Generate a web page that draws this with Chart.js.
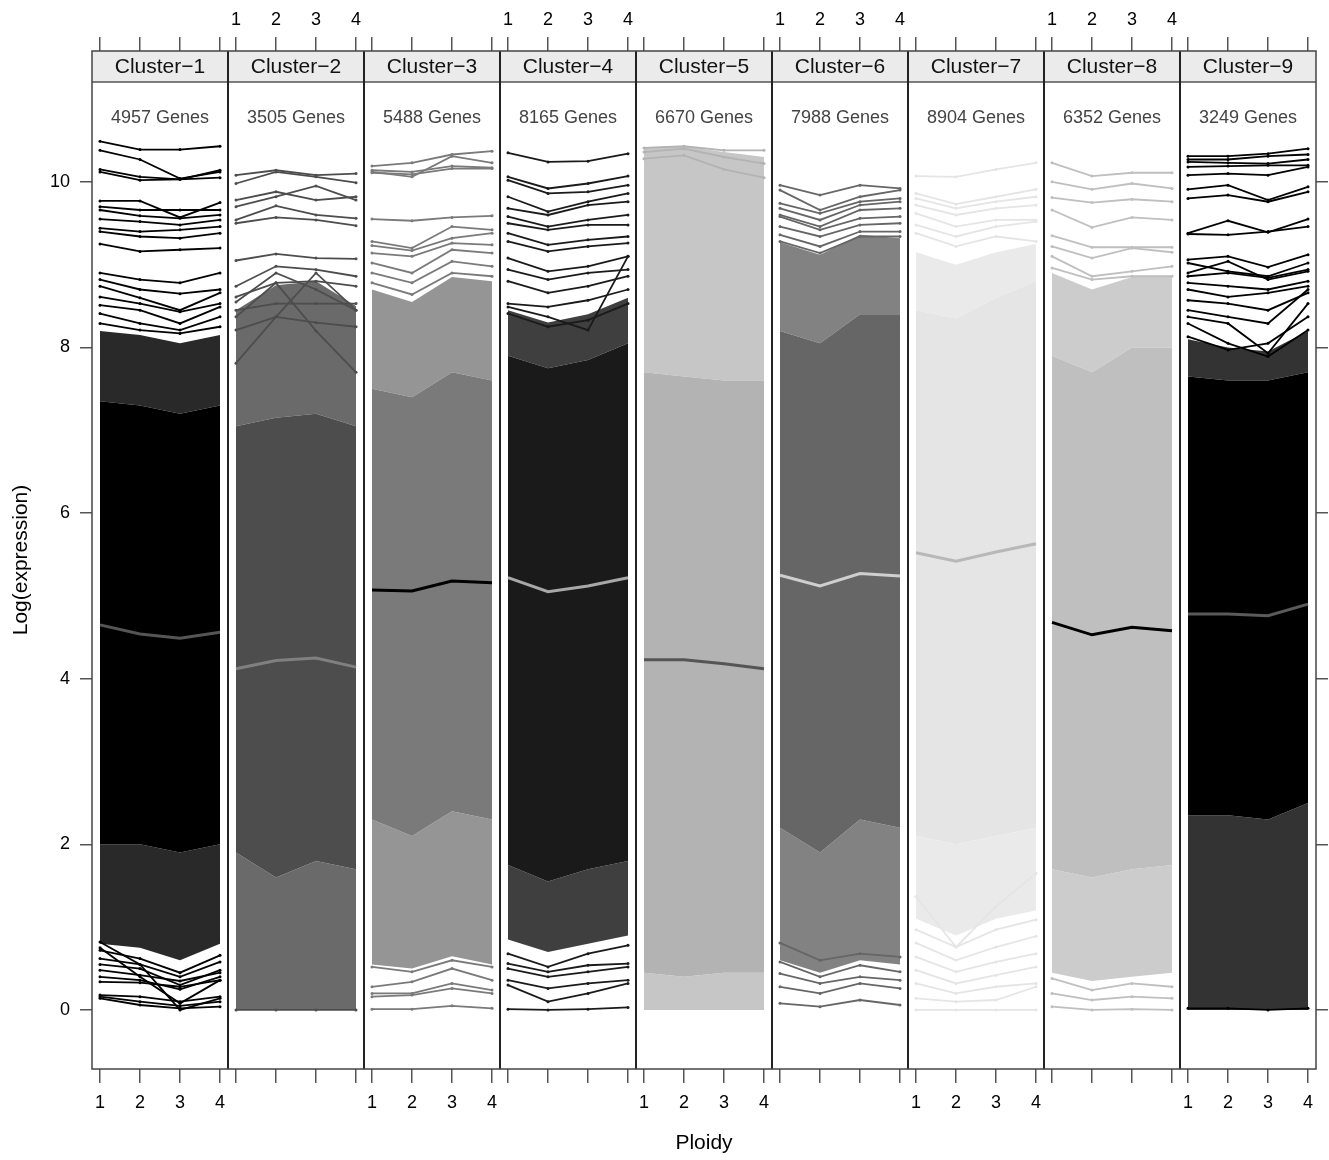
<!DOCTYPE html>
<html>
<head>
<meta charset="utf-8">
<script src="https://cdn.jsdelivr.net/npm/chart.js@4.4.1/dist/chart.umd.min.js"></script>
<style>
  body { margin: 0; background: #fff; }
</style>
</head>
<body>
<canvas id="grafico" width="1329" height="1160"></canvas>
<script>
// eixo x: niveis de ploidia, repetidos em cada painel
const ploidia = [1, 2, 3, 4];
const clusters = ['Cluster−1', 'Cluster−2', 'Cluster−3', 'Cluster−4', 'Cluster−5', 'Cluster−6', 'Cluster−7', 'Cluster−8', 'Cluster−9'];
const genes = [4957, 3505, 5488, 8165, 6670, 7988, 8904, 6352, 3249];
const marcasY = [0, 2, 4, 6, 8, 10];

const cores = ['#000000', '#4d4d4d', '#7a7a7a', '#1a1a1a', '#b3b3b3', '#666666', '#e5e5e5', '#bfbfbf', '#000000'];
const coresSemi = ['rgba(0,0,0,0.84)', 'rgba(77,77,77,0.84)', 'rgba(122,122,122,0.8)', 'rgba(26,26,26,0.84)',
                   'rgba(179,179,179,0.75)', 'rgba(102,102,102,0.82)', 'rgba(229,229,229,0.8)', 'rgba(191,191,191,0.8)', 'rgba(0,0,0,0.8)'];
const coresMedia = ['#555555', '#808080', '#000000', '#a8a8a8', '#555555', '#cfcfcf', '#b8b8b8', '#000000', '#5a5a5a'];

// media de expressao por cluster
const media = [
    [4.65, 4.54, 4.49, 4.56],
    [4.12, 4.22, 4.25, 4.14],
    [5.07, 5.06, 5.18, 5.16],
    [5.22, 5.05, 5.12, 5.22],
    [4.23, 4.23, 4.18, 4.12],
    [5.25, 5.12, 5.27, 5.24],
    [5.52, 5.42, 5.53, 5.63],
    [4.68, 4.53, 4.62, 4.58],
    [4.78, 4.78, 4.76, 4.90]
];

// limites das faixas densas (semi = muitas linhas, nucleo = tudo preenchido)
const semiBaixo = [
    [0.80, 0.75, 0.60, 0.80], [0.00, 0.00, 0.00, 0.00], [0.55, 0.50, 0.65, 0.55],
    [0.85, 0.70, 0.80, 0.90], [0.00, 0.00, 0.00, 0.00], [0.60, 0.45, 0.60, 0.55],
    [1.10, 0.90, 1.10, 1.20], [0.45, 0.35, 0.40, 0.45], [0.00, 0.00, 0.00, 0.00]
];
const nucleoBaixo = [
    [2.00, 2.00, 1.90, 2.00], [1.90, 1.60, 1.80, 1.70], [2.30, 2.10, 2.40, 2.30],
    [1.75, 1.55, 1.70, 1.80], [0.45, 0.40, 0.45, 0.45], [2.20, 1.90, 2.30, 2.20],
    [2.10, 2.00, 2.10, 2.20], [1.70, 1.60, 1.70, 1.75], [2.35, 2.35, 2.30, 2.50]
];
const nucleoAlto = [
    [7.35, 7.30, 7.20, 7.30], [7.05, 7.15, 7.20, 7.05], [7.50, 7.40, 7.70, 7.60],
    [7.90, 7.75, 7.85, 8.05], [7.70, 7.65, 7.60, 7.60], [8.20, 8.05, 8.40, 8.40],
    [8.45, 8.35, 8.60, 8.80], [7.90, 7.70, 8.00, 8.00], [7.65, 7.60, 7.60, 7.70]
];
const semiAlto = [
    [8.20, 8.15, 8.05, 8.15], [8.45, 8.75, 8.80, 8.50], [8.70, 8.55, 8.85, 8.80],
    [8.45, 8.30, 8.40, 8.60], [10.41, 10.43, 10.36, 10.30], [9.27, 9.12, 9.36, 9.32],
    [9.15, 9.00, 9.15, 9.25], [8.90, 8.70, 8.85, 8.85], [8.10, 8.00, 7.95, 8.20]
];

// genes isolados visiveis fora das faixas densas
const linhas1 = [
    [10.49, 10.39, 10.39, 10.43], [10.38, 10.27, 10.04, 10.12], [10.15, 10.06, 10.03, 10.14], [10.12, 10.02, 10.03, 10.05],
    [9.77, 9.77, 9.57, 9.75], [9.70, 9.66, 9.66, 9.66], [9.66, 9.59, 9.56, 9.60], [9.55, 9.52, 9.48, 9.54],
    [9.44, 9.40, 9.42, 9.46], [9.40, 9.34, 9.32, 9.38], [9.25, 9.16, 9.18, 9.20], [8.90, 8.82, 8.78, 8.90],
    [8.82, 8.70, 8.65, 8.70], [8.74, 8.60, 8.45, 8.66], [8.61, 8.53, 8.43, 8.53], [8.51, 8.45, 8.29, 8.49],
    [8.41, 8.29, 8.21, 8.37], [8.29, 8.21, 8.17, 8.25],
    [0.72, 0.62, 0.45, 0.66], [0.62, 0.55, 0.40, 0.58], [0.55, 0.50, 0.30, 0.48], [0.48, 0.42, 0.35, 0.45],
    [0.40, 0.36, 0.25, 0.40], [0.34, 0.33, 0.28, 0.36], [0.75, 0.40, 0.08, 0.36], [0.82, 0.55, 0.00, 0.14],
    [0.18, 0.16, 0.10, 0.16], [0.14, 0.06, 0.02, 0.04], [0.16, 0.10, 0.05, 0.10]
];
const linhas2 = [
    [10.08, 10.14, 10.08, 10.10], [9.98, 10.12, 10.06, 9.99], [9.78, 9.88, 9.78, 9.82], [9.70, 9.82, 9.95, 9.78],
    [9.54, 9.71, 9.60, 9.56], [9.50, 9.57, 9.54, 9.47], [9.05, 9.13, 9.08, 9.07], [8.74, 8.98, 8.94, 8.86],
    [7.81, 8.37, 8.90, 8.45], [8.61, 8.78, 8.80, 8.74], [8.45, 8.53, 8.53, 8.53], [8.37, 8.78, 8.20, 7.70],
    [8.21, 8.37, 8.30, 8.25], [8.55, 8.90, 8.70, 8.45],
    [0.00, 0.00, 0.00, 0.00]
];
const linhas3 = [
    [10.19, 10.23, 10.33, 10.37], [10.12, 10.06, 10.31, 10.23], [10.14, 10.12, 10.19, 10.17], [10.11, 10.09, 10.16, 10.16],
    [9.55, 9.53, 9.57, 9.59], [9.28, 9.20, 9.46, 9.42], [9.23, 9.17, 9.32, 9.38], [9.14, 9.10, 9.26, 9.24],
    [9.02, 8.90, 9.18, 9.14], [8.90, 8.78, 9.04, 8.98], [8.78, 8.64, 8.90, 8.86],
    [0.52, 0.46, 0.60, 0.52], [0.28, 0.34, 0.50, 0.36], [0.20, 0.20, 0.32, 0.24], [0.16, 0.18, 0.26, 0.20],
    [0.01, 0.01, 0.05, 0.02]
];
const linhas4 = [
    [10.35, 10.24, 10.25, 10.34], [10.06, 9.92, 9.98, 10.07], [10.02, 9.86, 9.88, 9.96], [9.82, 9.64, 9.76, 9.86],
    [9.68, 9.60, 9.72, 9.76], [9.58, 9.46, 9.54, 9.60], [9.50, 9.42, 9.48, 9.48], [9.38, 9.24, 9.30, 9.34],
    [9.28, 9.16, 9.22, 9.26], [9.08, 8.92, 8.98, 9.10], [8.94, 8.82, 8.90, 8.94], [8.80, 8.66, 8.74, 8.86],
    [8.53, 8.49, 8.57, 8.70], [8.41, 8.25, 8.33, 8.53], [8.49, 8.37, 8.21, 9.10],
    [0.68, 0.52, 0.68, 0.78], [0.56, 0.46, 0.54, 0.56], [0.50, 0.40, 0.46, 0.52], [0.36, 0.26, 0.32, 0.36],
    [0.30, 0.10, 0.20, 0.32], [0.01, 0.00, 0.01, 0.03]
];
const linhas5 = [
    [10.41, 10.43, 10.38, 10.38], [10.36, 10.40, 10.30, 10.22], [10.28, 10.32, 10.15, 10.05]
];
const linhas6 = [
    [9.96, 9.84, 9.96, 9.92], [9.90, 9.66, 9.82, 9.90], [9.74, 9.62, 9.76, 9.80], [9.68, 9.54, 9.72, 9.76],
    [9.60, 9.46, 9.66, 9.68], [9.58, 9.42, 9.56, 9.58], [9.46, 9.34, 9.48, 9.50], [9.36, 9.22, 9.40, 9.40],
    [9.28, 9.14, 9.34, 9.34],
    [0.81, 0.60, 0.68, 0.64], [0.58, 0.40, 0.54, 0.46], [0.44, 0.32, 0.40, 0.36], [0.28, 0.20, 0.32, 0.26],
    [0.08, 0.04, 0.12, 0.06]
];
const linhas7 = [
    [10.07, 10.06, 10.15, 10.23], [9.86, 9.73, 9.82, 9.91], [9.80, 9.68, 9.76, 9.82], [9.72, 9.60, 9.68, 9.72],
    [9.62, 9.46, 9.54, 9.54], [9.48, 9.34, 9.46, 9.52], [9.38, 9.22, 9.34, 9.28],
    [0.97, 0.76, 0.97, 1.09], [0.81, 0.60, 0.76, 0.89], [0.64, 0.46, 0.58, 0.68], [0.48, 0.32, 0.42, 0.52],
    [0.32, 0.20, 0.28, 0.32], [0.14, 0.10, 0.12, 0.28], [0.00, 0.00, 0.00, 0.00], [1.37, 0.76, 1.25, 1.65]
];
const linhas8 = [
    [10.23, 10.07, 10.11, 10.11], [10.00, 9.91, 9.98, 9.92], [9.81, 9.75, 9.79, 9.76], [9.66, 9.45, 9.57, 9.54],
    [9.35, 9.21, 9.21, 9.21], [9.22, 9.08, 9.20, 9.15], [9.10, 8.86, 8.92, 8.98], [8.96, 8.82, 8.86, 8.86],
    [0.38, 0.24, 0.32, 0.28], [0.20, 0.12, 0.16, 0.14], [0.04, 0.00, 0.01, 0.00]
];
const linhas9 = [
    [10.31, 10.31, 10.34, 10.40], [10.27, 10.27, 10.31, 10.33], [10.24, 10.23, 10.22, 10.27], [10.18, 10.19, 10.20, 10.20],
    [10.08, 10.10, 10.08, 10.18], [9.91, 9.96, 9.78, 9.94], [9.80, 9.84, 9.76, 9.88], [9.38, 9.53, 9.39, 9.55],
    [9.37, 9.36, 9.40, 9.46], [9.06, 9.10, 8.97, 9.12], [9.02, 8.92, 8.86, 9.02], [8.90, 9.04, 8.82, 8.92],
    [8.86, 8.90, 8.84, 8.94], [8.78, 8.74, 8.70, 8.80], [8.70, 8.61, 8.66, 8.74], [8.57, 8.53, 8.45, 8.66],
    [8.45, 8.37, 8.29, 8.70], [8.37, 8.29, 7.93, 8.53], [8.29, 8.05, 7.89, 8.21], [8.13, 7.97, 8.05, 8.37],
    [0.02, 0.02, 0.00, 0.02]
];

const todasLinhas = [linhas1, linhas2, linhas3, linhas4, linhas5, linhas6, linhas7, linhas8, linhas9];

// cada painel ocupa 3.4 unidades no eixo x comum (0.8 .. 4.2)
const PAINEL = 3.4;
const INICIO = 0.8;

function pontos(i, valores) {
    return valores.map(function (v, k) {
        return { x: i * PAINEL + ploidia[k] - INICIO, y: v };
    });
}

var datasets = [];
for (var i = 0; i < clusters.length; i++) {
    var borda = { borderWidth: 0, pointRadius: 0, borderColor: 'rgba(0,0,0,0)' };
    datasets.push(Object.assign({ data: pontos(i, semiBaixo[i]), fill: false, order: 6 }, borda));
    datasets.push(Object.assign({ data: pontos(i, nucleoBaixo[i]), fill: '-1', backgroundColor: coresSemi[i], order: 6 }, borda));
    datasets.push(Object.assign({ data: pontos(i, nucleoAlto[i]), fill: '-1', backgroundColor: cores[i], order: 5 }, borda));
    datasets.push(Object.assign({ data: pontos(i, semiAlto[i]), fill: '-1', backgroundColor: coresSemi[i], order: 6 }, borda));

    todasLinhas[i].forEach(function (l) {
        datasets.push({
            data: pontos(i, l),
            fill: false,
            borderColor: cores[i],
            borderWidth: 1.8,
            pointRadius: 1.5,
            pointBorderWidth: 0,
            pointBackgroundColor: cores[i],
            order: 3
        });
    });

    datasets.push({
        data: pontos(i, media[i]),
        fill: false,
        borderColor: coresMedia[i],
        borderWidth: 3,
        pointRadius: 0,
        order: 1
    });
}

function ticksPaineis(escala) {
    var t = [];
    for (var p = 0; p < clusters.length; p++) {
        ploidia.forEach(function (v) { t.push({ value: p * PAINEL + v - INICIO }); });
    }
    escala.ticks = t;
}

var fonteTicks = { family: 'Liberation Sans', size: 18 };
var fonteTitulo = { family: 'Liberation Sans', size: 21 };
var gradeX = { drawOnChartArea: false, drawTicks: true, tickLength: 14, color: '#555', lineWidth: 1.5 };

// faixas dos titulos, contagem de genes e moldura
const paineisPlugin = {
    id: 'paineis',
    afterDatasetsDraw: function (chart) {
        var ctx = chart.ctx;
        var area = chart.chartArea;
        var x = chart.scales.x;
        var topoFaixa = area.top;
        var baseFaixa = area.top + 31;
        ctx.save();
        for (var i = 0; i < clusters.length; i++) {
            var x0 = x.getPixelForValue(i * PAINEL);
            var x1 = x.getPixelForValue((i + 1) * PAINEL);
            ctx.fillStyle = '#ebebeb';
            ctx.fillRect(x0, topoFaixa, x1 - x0, baseFaixa - topoFaixa);
            ctx.fillStyle = '#111';
            ctx.font = '21px "Liberation Sans"';
            ctx.textAlign = 'center';
            ctx.textBaseline = 'middle';
            ctx.fillText(clusters[i], (x0 + x1) / 2, (topoFaixa + baseFaixa) / 2 + 1);
            ctx.fillStyle = '#444';
            ctx.font = '18px "Liberation Sans"';
            ctx.fillText(genes[i] + ' Genes', (x0 + x1) / 2, 118);
        }
        ctx.strokeStyle = '#555';
        ctx.lineWidth = 1.5;
        ctx.beginPath();
        ctx.moveTo(area.left, baseFaixa);
        ctx.lineTo(area.right, baseFaixa);
        ctx.stroke();
        ctx.strokeStyle = '#222';
        ctx.lineWidth = 2;
        for (var j = 1; j < clusters.length; j++) {
            var xp = Math.round(x.getPixelForValue(j * PAINEL));
            ctx.beginPath();
            ctx.moveTo(xp, area.top);
            ctx.lineTo(xp, area.bottom);
            ctx.stroke();
        }
        ctx.strokeStyle = '#444';
        ctx.lineWidth = 1.5;
        ctx.strokeRect(area.left, area.top, area.right - area.left, area.bottom - area.top);
        ctx.restore();
    }
};

var configuracao = {
    type: 'line',
    data: { datasets: datasets },
    options: {
        responsive: false,
        animation: false,
        events: [],
        layout: { padding: 0 },
        plugins: { legend: { display: false }, tooltip: { enabled: false } },
        scales: {
            x: {
                type: 'linear', position: 'bottom', min: 0, max: clusters.length * PAINEL,
                afterBuildTicks: ticksPaineis,
                afterFit: function (s) { s.height = 91; },
                grid: gradeX,
                border: { display: false },
                ticks: {
                    autoSkip: false, maxRotation: 0, padding: 9, color: '#000', font: fonteTicks,
                    callback: function (v, idx) { return Math.floor(idx / 4) % 2 === 0 ? String(ploidia[idx % 4]) : ''; }
                },
                title: { display: true, text: 'Ploidy', color: '#000', font: fonteTitulo, padding: { top: 0, bottom: 4 } }
            },
            x2: {
                type: 'linear', position: 'top', min: 0, max: clusters.length * PAINEL,
                afterBuildTicks: ticksPaineis,
                afterFit: function (s) { s.height = 51; },
                grid: gradeX,
                border: { display: false },
                ticks: {
                    autoSkip: false, maxRotation: 0, padding: 6, color: '#000', font: fonteTicks,
                    callback: function (v, idx) { return Math.floor(idx / 4) % 2 === 1 ? String(ploidia[idx % 4]) : ''; }
                }
            },
            y: {
                type: 'linear', position: 'left', min: -0.713, max: 11.58,
                afterBuildTicks: function (s) { s.ticks = marcasY.map(function (v) { return { value: v }; }); },
                afterFit: function (s) { s.width = 92; },
                grid: { drawOnChartArea: false, drawTicks: true, tickLength: 12, color: '#555', lineWidth: 1.5 },
                border: { display: false },
                ticks: { padding: 10, color: '#000', font: fonteTicks },
                title: { display: true, text: 'Log(expression)', color: '#000', font: fonteTitulo, padding: { top: 9, bottom: 0 } }
            },
            y2: {
                type: 'linear', position: 'right', min: -0.713, max: 11.58,
                afterBuildTicks: function (s) { s.ticks = marcasY.map(function (v) { return { value: v }; }); },
                afterFit: function (s) { s.width = 13; },
                grid: { drawOnChartArea: false, drawTicks: true, tickLength: 12, color: '#555', lineWidth: 1.5 },
                border: { display: false },
                ticks: { padding: 0, font: fonteTicks, callback: function () { return ''; } }
            }
        }
    },
    plugins: [paineisPlugin]
};

var grafico = new Chart(document.getElementById('grafico'), configuracao);
</script>
</body>
</html>
